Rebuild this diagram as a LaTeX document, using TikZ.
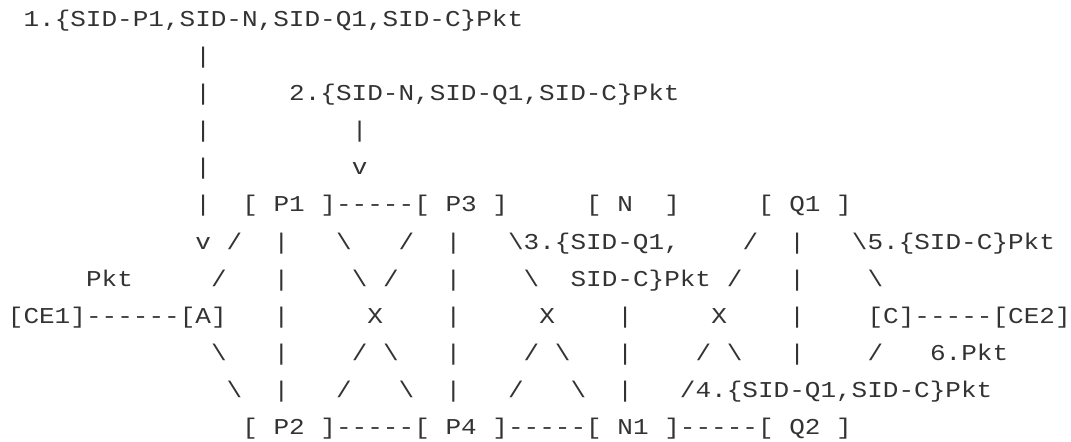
\documentclass[tikz,border=0pt]{standalone}
\usepackage{fontspec}
\setmonofont[FakeStretch=1.148]{Liberation Mono}
\definecolor{ink}{HTML}{333333}
\newcommand\bs{\textbackslash}
% \tx{name}{column}{line (0-based)}{text}
\newcommand\tx[4]{\node[txt] (#1) at ({7.9+15.63*#2},{27+37*#3}) {#4};}
\tikzset{
  txt/.style={anchor=base west, inner sep=0pt, outer sep=0pt, text=ink,
    font=\ttfamily\fontsize{17pt}{17pt}\selectfont}
}
\begin{document}
\begin{tikzpicture}[x=0.75pt,y=-0.75pt]
\useasboundingbox (0,0) rectangle (1071,442);
% line 1
\tx{lab1}{1}{0}{1.\{SID-P1,SID-N,SID-Q1,SID-C\}Pkt}
% line 2
\tx{a2}{12}{1}{|}
% line 3
\tx{a3}{12}{2}{|}
\tx{lab2}{18}{2}{2.\{SID-N,SID-Q1,SID-C\}Pkt}
% line 4
\tx{a4}{12}{3}{|}
\tx{b4}{22}{3}{|}
% line 5
\tx{a5}{12}{4}{|}
\tx{b5}{22}{4}{v}
% line 6
\tx{a6}{12}{5}{|}
\tx{P1}{15}{5}{[ P1 ]}
\tx{e6a}{21}{5}{-----}
\tx{P3}{26}{5}{[ P3 ]}
\tx{N}{37}{5}{[ N~~]}
\tx{Q1}{48}{5}{[ Q1 ]}
% line 7
\tx{a7}{12}{6}{v}
\tx{s7a}{14}{6}{/}
\tx{s7b}{17}{6}{|}
\tx{s7c}{21}{6}{\bs}
\tx{s7d}{25}{6}{/}
\tx{s7e}{28}{6}{|}
\tx{lab3a}{32}{6}{\bs 3.\{SID-Q1,}
\tx{s7f}{47}{6}{/}
\tx{s7g}{50}{6}{|}
\tx{lab5}{54}{6}{\bs 5.\{SID-C\}Pkt}
% line 8
\tx{pkt1}{5}{7}{Pkt}
\tx{s8a}{13}{7}{/}
\tx{s8b}{17}{7}{|}
\tx{s8c}{22}{7}{\bs}
\tx{s8d}{24}{7}{/}
\tx{s8e}{28}{7}{|}
\tx{s8f}{33}{7}{\bs}
\tx{lab3b}{36}{7}{SID-C\}Pkt}
\tx{s8g}{46}{7}{/}
\tx{s8h}{50}{7}{|}
\tx{s8i}{55}{7}{\bs}
% line 9
\tx{CE1}{0}{8}{[CE1]}
\tx{e9a}{5}{8}{------}
\tx{A}{11}{8}{[A]}
\tx{s9a}{17}{8}{|}
\tx{x1}{23}{8}{X}
\tx{s9b}{28}{8}{|}
\tx{x2}{34}{8}{X}
\tx{s9c}{39}{8}{|}
\tx{x3}{45}{8}{X}
\tx{s9d}{50}{8}{|}
\tx{C}{55}{8}{[C]}
\tx{e9b}{58}{8}{-----}
\tx{CE2}{63}{8}{[CE2]}
% line 10
\tx{s10a}{13}{9}{\bs}
\tx{s10b}{17}{9}{|}
\tx{s10c}{22}{9}{/}
\tx{s10d}{24}{9}{\bs}
\tx{s10e}{28}{9}{|}
\tx{s10f}{33}{9}{/}
\tx{s10g}{35}{9}{\bs}
\tx{s10h}{39}{9}{|}
\tx{s10i}{44}{9}{/}
\tx{s10j}{46}{9}{\bs}
\tx{s10k}{50}{9}{|}
\tx{s10l}{55}{9}{/}
\tx{lab6}{59}{9}{6.Pkt}
% line 11
\tx{s11a}{14}{10}{\bs}
\tx{s11b}{17}{10}{|}
\tx{s11c}{21}{10}{/}
\tx{s11d}{25}{10}{\bs}
\tx{s11e}{28}{10}{|}
\tx{s11f}{32}{10}{/}
\tx{s11g}{36}{10}{\bs}
\tx{s11h}{39}{10}{|}
\tx{lab4}{43}{10}{/4.\{SID-Q1,SID-C\}Pkt}
% line 12
\tx{P2}{15}{11}{[ P2 ]}
\tx{e12a}{21}{11}{-----}
\tx{P4}{26}{11}{[ P4 ]}
\tx{e12b}{32}{11}{-----}
\tx{N1}{37}{11}{[ N1 ]}
\tx{e12c}{43}{11}{-----}
\tx{Q2}{48}{11}{[ Q2 ]}
\end{tikzpicture}
\end{document}
